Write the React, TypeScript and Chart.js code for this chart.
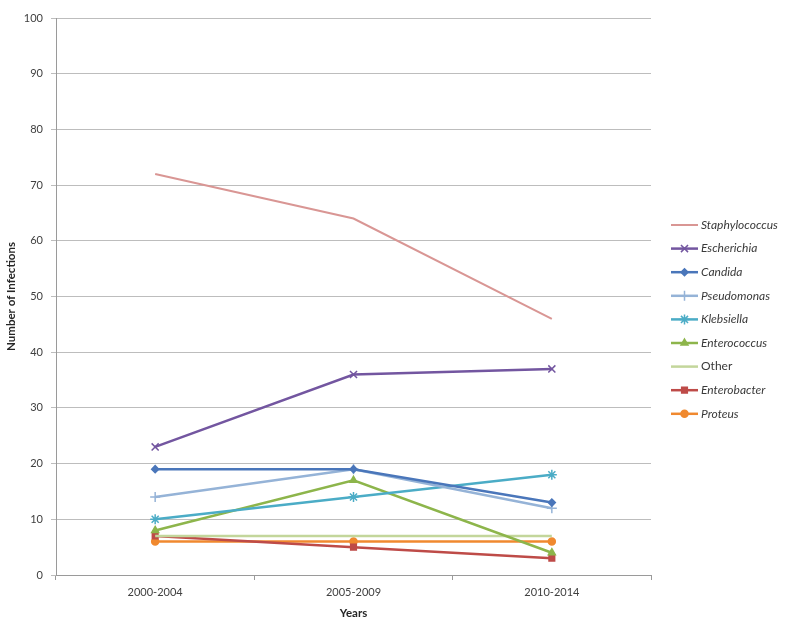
import React, { useEffect, useRef } from "react";
import { Chart, registerables } from "chart.js";
import { drawPoint } from "chart.js/helpers";

Chart.register(...registerables);

const categories = ["2000-2004", "2005-2009", "2010-2014"];
const seriesNames = ["Staphylococcus", "Escherichia", "Candida", "Pseudomonas", "Klebsiella", "Enterococcus", "Other", "Enterobacter", "Proteus"];
const staphylococcus = [72, 64, 46];
const escherichia = [23, 36, 37];
const candida = [19, 19, 13];
const pseudomonas = [14, 19, 12];
const klebsiella = [10, 14, 18];
const enterococcus = [8, 17, 4];
const other = [7, 7, 7];
const enterobacter = [7, 5, 3];
const proteus = [6, 6, 6];
const yTicks = [0, 10, 20, 30, 40, 50, 60, 70, 80, 90, 100];

const seriesValues = [staphylococcus, escherichia, candida, pseudomonas, klebsiella, enterococcus, other, enterobacter, proteus];
const seriesColors = ["#D99694", "#7356A0", "#4A76BA", "#95B3D7", "#4BACC6", "#8DB54B", "#C3D69B", "#BE4B48", "#F0892F"];
const seriesMarkers: (string | false)[] = [false, "crossRot", "rectRot", "cross", "star", "triangle", false, "rect", "circle"];
const seriesMarkerSizes = [0, 5, 3.5, 5, 5, 4, 0, 4, 3.5];
const seriesItalic = [true, true, true, true, true, true, false, true, true];

const FONT = "Lato, 'Open Sans', sans-serif";

const legendPlugin = {
  id: "sideLegend",
  afterDraw(chart: any) {
    const ctx = chart.ctx;
    const area = chart.chartArea;
    const x0 = area.right + 20;
    const x1 = x0 + 27;
    const y0 = area.top + 207;
    const step = 23.6;
    ctx.save();
    chart.data.datasets.forEach((ds: any, i: number) => {
      const y = y0 + i * step;
      ctx.strokeStyle = ds.borderColor;
      ctx.lineWidth = ds.borderWidth;
      ctx.beginPath();
      ctx.moveTo(x0, y);
      ctx.lineTo(x1, y);
      ctx.stroke();
      if (seriesMarkers[i]) {
        ctx.fillStyle = ds.borderColor;
        ctx.strokeStyle = ds.borderColor;
        ctx.lineWidth = 1.5;
        drawPoint(ctx, { pointStyle: seriesMarkers[i], radius: seriesMarkerSizes[i], rotation: 0, borderWidth: 1.5 }, (x0 + x1) / 2, y);
      }
      ctx.fillStyle = "#3a3a3a";
      ctx.font = `${seriesItalic[i] ? "italic " : ""}12px ${FONT}`;
      ctx.textBaseline = "middle";
      ctx.textAlign = "left";
      ctx.fillText(ds.label, x1 + 3, y);
    });
    ctx.restore();
  },
};

export default function App() {
  const canvasRef = useRef<HTMLCanvasElement | null>(null);

  useEffect(() => {
    if (!canvasRef.current) return;
    const chart = new Chart(canvasRef.current, {
      type: "line",
      data: {
        labels: categories,
        datasets: seriesNames.map((name, i) => ({
          label: name,
          data: seriesValues[i],
          borderColor: seriesColors[i],
          backgroundColor: seriesColors[i],
          borderWidth: i === 0 ? 2 : 2.5,
          pointStyle: seriesMarkers[i] || "circle",
          pointRadius: seriesMarkerSizes[i],
          pointBorderWidth: 1.5,
          pointBorderColor: seriesColors[i],
          pointBackgroundColor: seriesColors[i],
          tension: 0,
          fill: false,
        })),
      },
      options: {
        animation: false,
        responsive: false,
        maintainAspectRatio: false,
        layout: { padding: { left: 0, top: 18, right: 149, bottom: 0 } },
        plugins: {
          legend: { display: false },
          tooltip: { enabled: false },
        },
        scales: {
          x: {
            offset: true,
            grid: { offset: true, drawOnChartArea: false, tickLength: 5, color: "#9a9a9a" },
            border: { color: "#9a9a9a" },
            ticks: { color: "#404040", font: { family: FONT, size: 11 }, padding: 6, maxRotation: 0 },
            title: { display: true, text: "Years", color: "#262626", font: { family: FONT, size: 11.5, weight: "bold" }, padding: { top: 4, bottom: 12 } },
            afterFit: (s: any) => { s.height = 57; },
          },
          y: {
            min: 0,
            max: 100,
            afterBuildTicks: (s: any) => { s.ticks = yTicks.map((v) => ({ value: v })); },
            grid: { color: "#bdbdbd", tickLength: 5, lineWidth: 1 },
            border: { color: "#9a9a9a" },
            ticks: { color: "#404040", font: { family: FONT, size: 11 }, padding: 8 },
            title: { display: true, text: "Number of Infections", color: "#262626", font: { family: FONT, size: 11.5, weight: "bold" }, padding: { top: 4, bottom: 4 } },
            afterFit: (s: any) => { s.width = 56; },
          },
        },
      },
      plugins: [legendPlugin],
    } as any);
    return () => chart.destroy();
  }, []);

  return (
    <div style={{ position: "absolute", left: 0, top: 0, width: 800, height: 632, background: "#fff" }}>
      <canvas ref={canvasRef} width={800} height={632} style={{ width: 800, height: 632 }} />
    </div>
  );
}
